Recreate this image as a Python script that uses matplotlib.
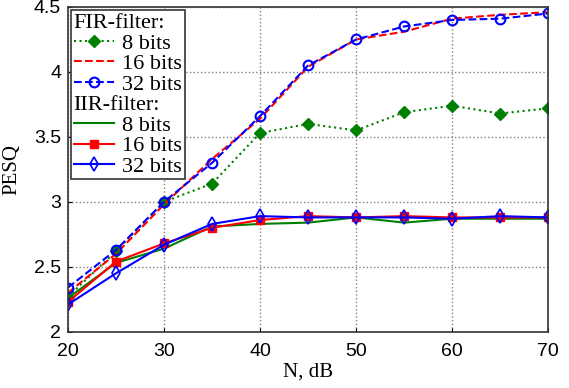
import numpy as np
import matplotlib
matplotlib.use('Agg')
import matplotlib.pyplot as plt
from matplotlib.lines import Line2D

n_db = [20, 25, 30, 35, 40, 45, 50, 55, 60, 65, 70]

fir_8 = [2.27, 2.62, 3.00, 3.14, 3.53, 3.60, 3.55, 3.69, 3.74, 3.68, 3.72]
fir_16 = [2.30, 2.60, 2.98, 3.33, 3.64, 4.04, 4.25, 4.31, 4.41, 4.44, 4.46]
fir_32 = [2.34, 2.63, 3.00, 3.30, 3.66, 4.05, 4.25, 4.35, 4.40, 4.41, 4.45]

iir_8 = [2.26, 2.53, 2.64, 2.81, 2.83, 2.84, 2.88, 2.84, 2.87, 2.87, 2.87]
iir_16 = [2.23, 2.54, 2.68, 2.80, 2.86, 2.89, 2.88, 2.89, 2.88, 2.88, 2.88]
iir_32 = [2.21, 2.45, 2.67, 2.83, 2.89, 2.88, 2.88, 2.88, 2.87, 2.89, 2.88]

green = (0, 0.5, 0)

fig = plt.figure(figsize=(5.69, 3.88), dpi=100)
ax = fig.add_axes([0.1195, 0.145, 0.844, 0.837])

h_f8, = ax.plot(n_db, fir_8, ':', color=green, lw=1.5, marker='D', ms=6, mfc=green, mec=green)
h_f16, = ax.plot(n_db, fir_16, '--', color='red', lw=1.5)
h_f32, = ax.plot(n_db, fir_32, '--', color='blue', lw=1.5, marker='o', ms=7, mfc='none', mec='blue', mew=1.5)
h_i8, = ax.plot(n_db, iir_8, '-', color=green, lw=1.5)
h_i16, = ax.plot(n_db, iir_16, '-', color='red', lw=1.5, marker='s', ms=6, mfc='red', mec='red')
h_i32, = ax.plot(n_db, iir_32, '-', color='blue', lw=1.5, marker='d', ms=7, mfc='none', mec='blue', mew=1.2)

ax.set_xlim(20, 70)
ax.set_ylim(2, 4.5)
ax.set_xticks([20, 30, 40, 50, 60, 70])
ax.set_yticks([2, 2.5, 3, 3.5, 4, 4.5])
ax.set_yticklabels(['2', '2.5', '3', '3.5', '4', '4.5'])
ax.grid(True, linestyle=':', color='gray', lw=1)
ax.tick_params(direction='in', length=3, labelsize=14)
ax.tick_params(axis='x', pad=8)
ax.tick_params(axis='y', pad=5)
for lab in ax.get_xticklabels() + ax.get_yticklabels():
    lab.set_fontfamily('Liberation Sans')
for sp in ax.spines.values():
    sp.set_color('#333333')
    sp.set_linewidth(1.2)

ax.set_xlabel('N, dB', family='Liberation Serif', fontsize=15, labelpad=2)
ax.set_ylabel('PESQ', family='Liberation Serif', fontsize=15, labelpad=9)

blank = Line2D([], [], linestyle='none')
handles = [blank, h_f8, h_f16, h_f32, blank, h_i8, h_i16, h_i32]
labels = ['FIR-filter:', '8 bits', '16 bits', '32 bits', 'IIR-filter:', '8 bits', '16 bits', '32 bits']
leg = ax.legend(handles, labels, loc='upper left', prop={'family': 'Liberation Serif', 'size': 16},
                fancybox=False, edgecolor='#333333', framealpha=1, labelspacing=0.0,
                handlelength=1.8, handletextpad=0.4, borderpad=0.1, borderaxespad=0.15)
leg.get_frame().set_linewidth(1.2)

# pull the section titles to the left so they start where the handles do
rows = leg._legend_handle_box.get_children()[0].get_children()
for idx in (0, 4):
    hbox = rows[idx]
    hbox.get_children()[0].width = 0
    hbox.sep = 0

fig.savefig('out.png', dpi=100)
